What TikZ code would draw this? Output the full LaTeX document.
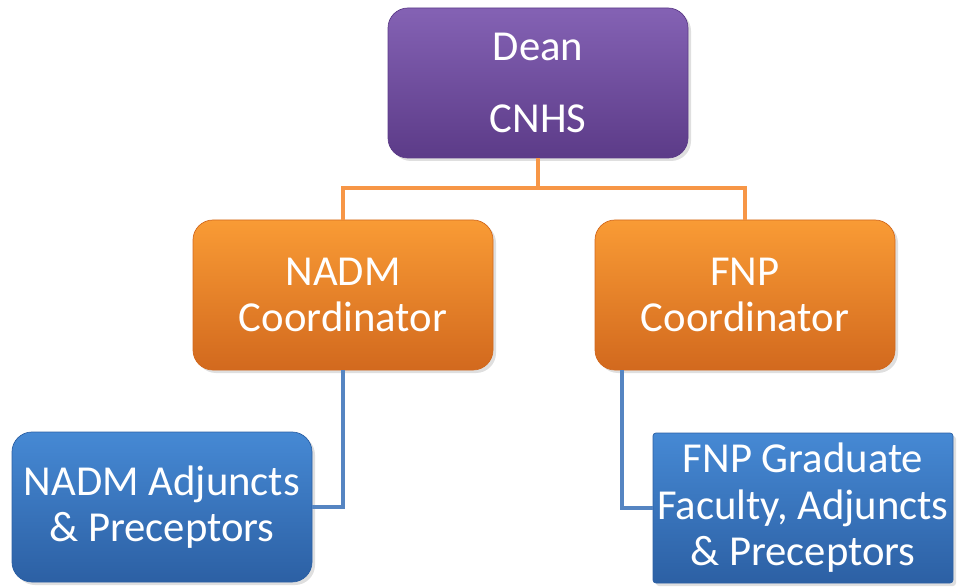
\documentclass[tikz,border=0pt]{standalone}
\usepackage{fontspec}
\setmainfont{Carlito}
\usetikzlibrary{shapes, shadows}
\definecolor{deantop}{HTML}{8462B4}
\definecolor{deanbot}{HTML}{5C3B88}
\definecolor{coordtop}{HTML}{F99B35}
\definecolor{coordbot}{HTML}{D2691E}
\definecolor{stafftop}{HTML}{4689D4}
\definecolor{staffbot}{HTML}{2C60A4}
\definecolor{orangeline}{HTML}{F79646}
\definecolor{blueline}{HTML}{5585C2}
\tikzstyle{unit} = [rectangle, rounded corners=0.4cm, minimum width=6cm, minimum height=3cm, inner sep=2pt, text=white, font=\fontsize{24.3}{26.5}\selectfont, drop shadow={opacity=0.25, shadow xshift=0.06cm, shadow yshift=-0.06cm}]
\tikzstyle{dean} = [unit, top color=deantop, bottom color=deanbot, draw=deanbot]
\tikzstyle{coord} = [unit, top color=coordtop, bottom color=coordbot, draw=coordbot]
\tikzstyle{staff} = [unit, top color=stafftop, bottom color=staffbot, draw=staffbot]
\tikzstyle{upper} = [line width=2.2pt, draw=orangeline]
\tikzstyle{lower} = [line width=2.2pt, draw=blueline]

\begin{document}
\begin{tikzpicture}[align=center]

\useasboundingbox (0,0) rectangle (19.16,11.74);

\node (dean) [dean] at (10.76,10.08) {Dean\\[14pt]CNHS};
\node (nadmCoord) [coord] at (6.86,5.84) {NADM\\Coordinator};
\node (fnpCoord) [coord] at (14.9,5.84) {FNP\\Coordinator};
\node (nadmStaff) [staff] at (3.24,1.6) {NADM Adjuncts\\\& Preceptors};
\node (fnpStaff) [staff, rounded corners=0.06cm] at (16.06,1.58) {FNP Graduate\\Faculty, Adjuncts\\\& Preceptors};

\draw [upper] (dean.south) -- ++(0,-0.6) -| (nadmCoord.north);
\draw [upper] (dean.south) -- ++(0,-0.6) -| (fnpCoord.north);
\draw [lower] (nadmCoord.south) |- (nadmStaff.east);
\draw [lower] ([xshift=0.54cm]fnpCoord.south west) |- (fnpStaff.west);

\end{tikzpicture}
\end{document}
